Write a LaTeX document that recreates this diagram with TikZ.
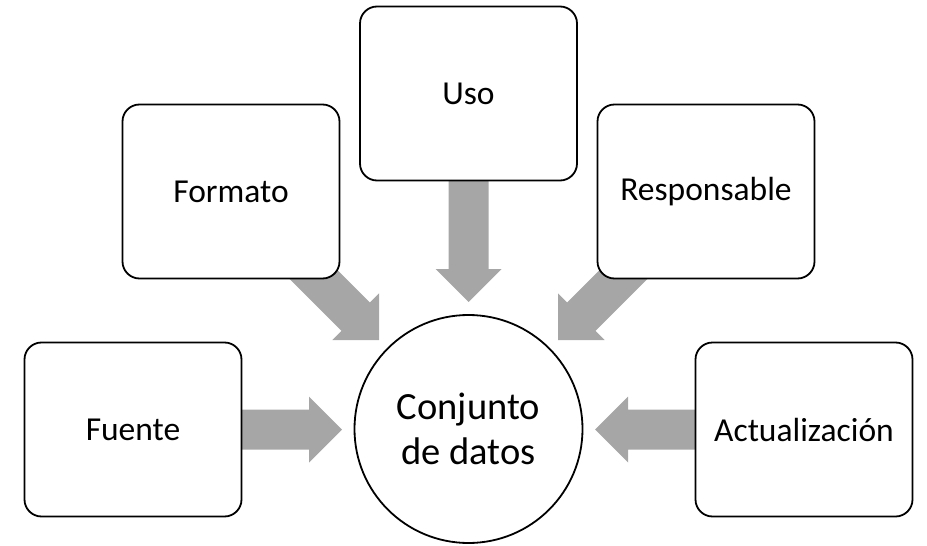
\documentclass[tikz,border=0pt]{standalone}
\usepackage{fontspec}
\setmainfont{Carlito}
\usetikzlibrary{calc}
\definecolor{arrowgray}{HTML}{A6A6A6}
\newcommand{\blockarr}[2]{%
  \coordinate (hb) at ($(#2)!33pt!(#1)$);
  \fill[arrowgray] ($(#1)!20pt!90:(#2)$) -- ($(hb)!20pt!-90:(#1)$) -- ($(hb)!33pt!-90:(#1)$) -- (#2)
    -- ($(hb)!33pt!90:(#1)$) -- ($(hb)!20pt!90:(#1)$) -- ($(#1)!20pt!-90:(#2)$) -- cycle;
}
\tikzset{
  itembox/.style={draw=black, line width=1.8pt, fill=white, rectangle, rounded corners=17pt,
    minimum width=217pt, minimum height=174pt, inner sep=0pt,
    font=\fontsize{33.5}{40}\selectfont},
  hub/.style={draw=black, line width=1.8pt, fill=white, circle, minimum size=228pt, inner sep=0pt,
    align=center, font=\fontsize{38.5}{45}\selectfont}
}
\begin{document}
\begin{tikzpicture}[x=1pt, y=-1pt]
\useasboundingbox (0,0) rectangle (927,546);
% nodes positions as coordinates first (arrows drawn beneath boxes)
\coordinate (cfuente) at (133,429.5);
\coordinate (cformato) at (231,191.5);
\coordinate (cuso) at (468.5,93.5);
\coordinate (cresp) at (706,191.5);
\coordinate (cact) at (804,429.5);
% arrows
\coordinate (sfuente) at (242,429.5);
\coordinate (tfuente) at (342,429.5);
\coordinate (sact) at (695,429.5);
\coordinate (tact) at (595,429.5);
\coordinate (suso) at (468.5,180);
\coordinate (tuso) at (468.5,302);
\coordinate (sformato) at (300,261);
\coordinate (tformato) at (379,340);
\coordinate (sresp) at (637,261);
\coordinate (tresp) at (558,340);
\blockarr{sfuente}{tfuente}
\blockarr{sact}{tact}
\blockarr{suso}{tuso}
\blockarr{sformato}{tformato}
\blockarr{sresp}{tresp}
% boxes
\node[itembox] (fuente) at (cfuente) {Fuente};
\node[itembox] (formato) at (cformato) {Formato};
\node[itembox] (uso) at (cuso) {Uso};
\node[itembox] (resp) at (cresp) {Responsable};
\node[itembox] (act) at (cact) {Actualización};
\node[hub] (datos) at (468.5,429) {Conjunto\\de datos};
\end{tikzpicture}
\end{document}
